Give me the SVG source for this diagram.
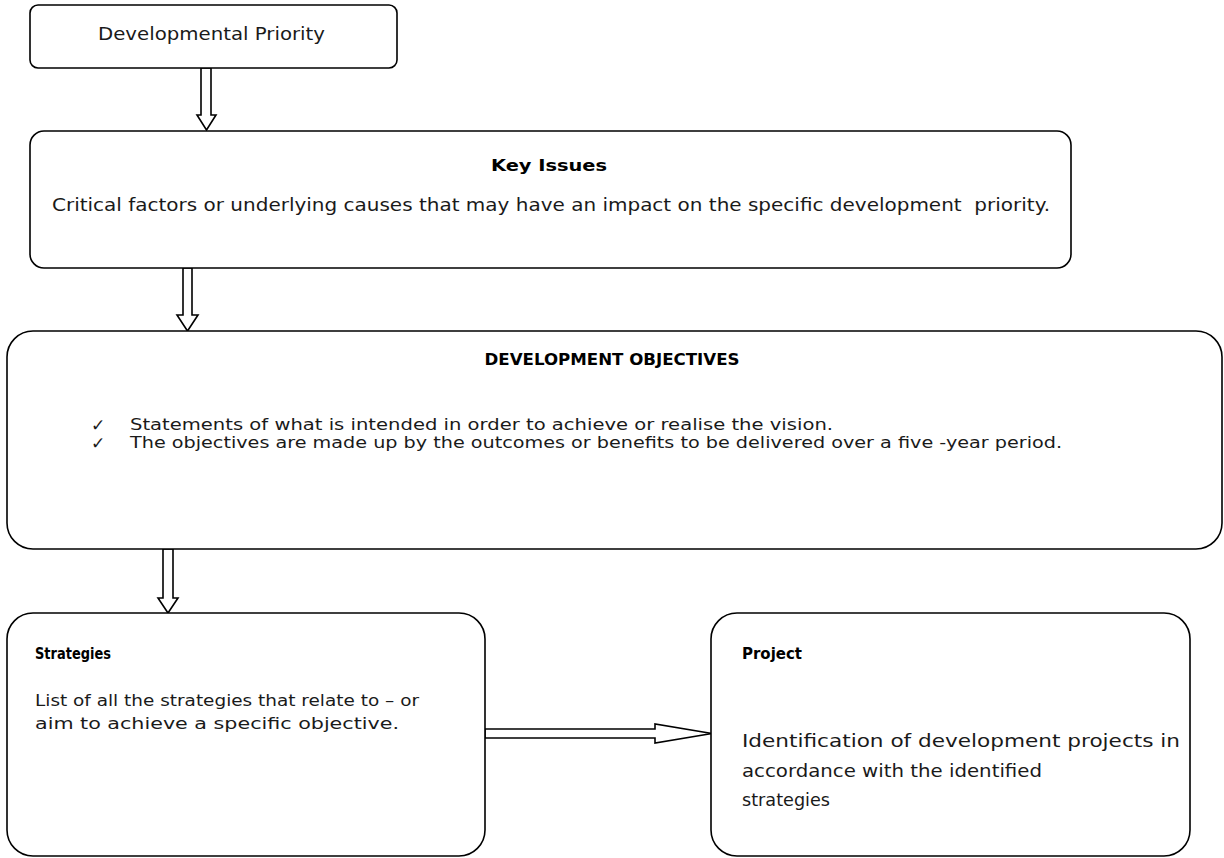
<svg xmlns="http://www.w3.org/2000/svg" width="1224" height="858" viewBox="0 0 1224 858">
<style>
.box{fill:#fff;stroke:#000;stroke-width:1.6}
.arr{fill:#fff;stroke:#000;stroke-width:1.6;stroke-linejoin:miter}
text{font-family:"DejaVu Sans","Liberation Sans",sans-serif;fill:#1a1a1a}
.b{font-weight:bold;fill:#000}
.pre{white-space:pre}
</style>
<rect width="1224" height="858" fill="#fff"/>
<g id="connectors">
<polygon class="arr" points="201,68 211,68 211,115 216,115 206.5,130 197,115 201,115"/>
<polygon class="arr" points="183,268 192,268 192,315 198,315 187.5,331 177,315 183,315"/>
<polygon class="arr" points="163,549 173,549 173,598 178,598 168,613 158,598 163,598"/>
<polygon class="arr" points="485,729 655,729 655,724 712,733.5 655,743 655,738 485,738"/>
</g>
<g id="developmental-priority">
<rect class="box" x="30" y="5" width="367" height="63" rx="8"/>
<text x="98" y="40" font-size="18" textLength="227" lengthAdjust="spacingAndGlyphs">Developmental Priority</text>
</g>
<g id="key-issues">
<rect class="box" x="30" y="131" width="1041" height="137" rx="14"/>
<text class="b" x="549" y="171" font-size="16" text-anchor="middle" textLength="116" lengthAdjust="spacingAndGlyphs">Key Issues</text>
<text class="pre" x="52" y="211" font-size="17" textLength="998" lengthAdjust="spacingAndGlyphs">Critical factors or underlying causes that may have an impact on the specific development  priority.</text>
</g>
<g id="development-objectives">
<rect class="box" x="7" y="331" width="1215" height="218" rx="26"/>
<text class="b" x="612" y="365" font-size="16" text-anchor="middle" textLength="255" lengthAdjust="spacingAndGlyphs">DEVELOPMENT OBJECTIVES</text>
<text x="91" y="431" font-size="17">✓</text>
<text x="91" y="449" font-size="17">✓</text>
<text x="130" y="430" font-size="16.5" textLength="703" lengthAdjust="spacingAndGlyphs">Statements of what is intended in order to achieve or realise the vision.</text>
<text x="130" y="448" font-size="16.5" textLength="932" lengthAdjust="spacingAndGlyphs">The objectives are made up by the outcomes or benefits to be delivered over a five -year period.</text>
</g>
<g id="strategies">
<rect class="box" x="7" y="613" width="478" height="243" rx="26"/>
<text class="b" x="35" y="659" font-size="15" textLength="76" lengthAdjust="spacingAndGlyphs">Strategies</text>
<text x="35" y="706" font-size="16.5" textLength="384" lengthAdjust="spacingAndGlyphs">List of all the strategies that relate to – or</text>
<text x="35" y="729" font-size="16.5" textLength="364" lengthAdjust="spacingAndGlyphs">aim to achieve a specific objective.</text>
</g>
<g id="project">
<rect class="box" x="711" y="613" width="479" height="243" rx="26"/>
<text class="b" x="742" y="659" font-size="15" textLength="60" lengthAdjust="spacingAndGlyphs">Project</text>
<text x="742" y="747" font-size="18.5" textLength="438" lengthAdjust="spacingAndGlyphs">Identification of development projects in</text>
<text x="742" y="777" font-size="18.5" textLength="300" lengthAdjust="spacingAndGlyphs">accordance with the identified</text>
<text x="742" y="806" font-size="18.5" textLength="88" lengthAdjust="spacingAndGlyphs">strategies</text>
</g>
</svg>
